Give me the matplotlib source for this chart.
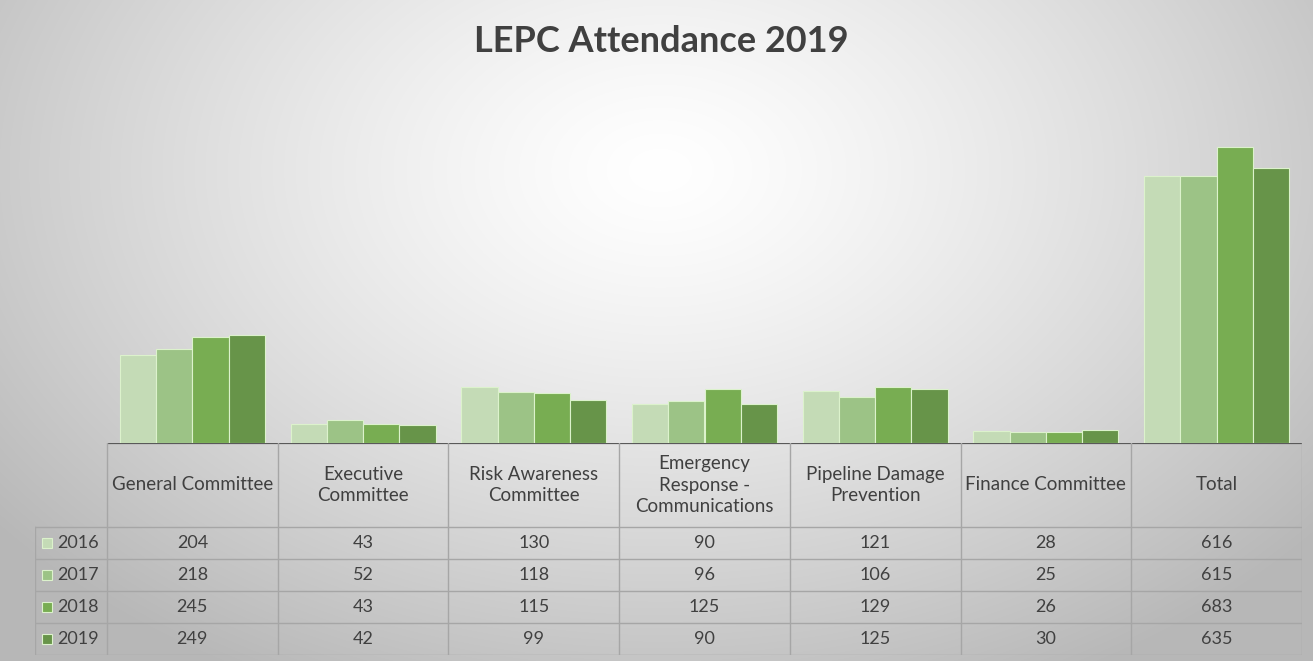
import numpy as np
import matplotlib
matplotlib.use("Agg")
import matplotlib.pyplot as plt

plt.rcParams['font.family'] = ['Lato', 'DejaVu Sans']

categories = ["General Committee", "Executive\nCommittee", "Risk Awareness\nCommittee",
              "Emergency\nResponse -\nCommunications", "Pipeline Damage\nPrevention",
              "Finance Committee", "Total"]
years = ["2016", "2017", "2018", "2019"]
v2016 = [204, 43, 130, 90, 121, 28, 616]
v2017 = [218, 52, 118, 96, 106, 25, 615]
v2018 = [245, 43, 115, 125, 129, 26, 683]
v2019 = [249, 42, 99, 90, 125, 30, 635]
series = [v2016, v2017, v2018, v2019]
colors = ['#c4dbb6', '#9cc386', '#78ad52', '#679449']

W, H = 1313, 661
fig = plt.figure(figsize=(W / 100, H / 100), dpi=100)

# background radial gradient (white centre, grey edges)
bg = fig.add_axes([0, 0, 1, 1])
yy, xx = np.mgrid[0:H, 0:W]
d = np.sqrt(((xx - 660) / 820.0) ** 2 + ((yy - 170) / 560.0) ** 2)
g = np.clip(1.0 - 0.27 * d ** 1.3, 0.72, 1.0)
bg.imshow(np.dstack([g, g, g]), extent=[0, W, H, 0], aspect='auto')
bg.axis('off')

text_c = '#404040'
grid_c = '#a6a6a6'

# bar area
x0, x1 = 107, 1302
base = 443
ytop = 800
px_per = 0.4334
top_px = base - ytop * px_per
ax = fig.add_axes([x0 / W, (H - base) / H, (x1 - x0) / W, (base - top_px) / H])
ax.set_facecolor('none')
x = np.arange(len(categories))
bw = 0.2125
for i, vals in enumerate(series):
    ax.bar(x + (i - 1.5) * bw, vals, width=bw, color=colors[i],
           edgecolor='#dcf2cc', linewidth=0.8)
ax.set_xlim(-0.5, 6.5)
ax.set_ylim(0, ytop)
ax.axis('off')

fig.text(661 / W, 1 - 42 / H, "LEPC Attendance 2019", ha='center', va='center',
         fontsize=26, fontweight='bold', color=text_c)

# data table
cw = (x1 - x0) / 7.0
lx = 35
tab_bottom = 655
tab = fig.add_axes([lx / W, (H - tab_bottom) / H, (x1 - lx) / W, (tab_bottom - base) / H])
tab.set_facecolor('none')
left = -0.5 - (x0 - lx) / cw
tab.set_xlim(left, 6.5)
tab.set_ylim(tab_bottom - base, 0)
tab.axis('off')

hdr = 84
rh = 32
# baseline
tab.plot([-0.5, 6.5], [0, 0], color='#595959', lw=1.6, solid_capstyle='butt')
for k in range(8):
    tab.plot([k - 0.5, k - 0.5], [0, hdr + 4 * rh], color=grid_c, lw=1)
tab.plot([left, left], [hdr, hdr + 4 * rh], color=grid_c, lw=1)
for r in range(5):
    tab.plot([left, 6.5], [hdr + r * rh, hdr + r * rh], color=grid_c, lw=1)

for k, c in enumerate(categories):
    tab.text(k, hdr / 2, c, ha='center', va='center', fontsize=13.5,
             color=text_c, linespacing=1.32)

for r, vals in enumerate(series):
    yc = hdr + rh * r + rh / 2
    tab.plot([left + 12 / cw], [yc], marker='s', markersize=7, color=colors[r],
             markeredgecolor='#dcf2cc', markeredgewidth=0.8)
    tab.text(left + 22 / cw, yc, years[r], ha='left', va='center', fontsize=13, color=text_c)
    for k, v in enumerate(vals):
        tab.text(k, yc, str(v), ha='center', va='center', fontsize=13, color=text_c)

fig.savefig("out.png", dpi=100)
